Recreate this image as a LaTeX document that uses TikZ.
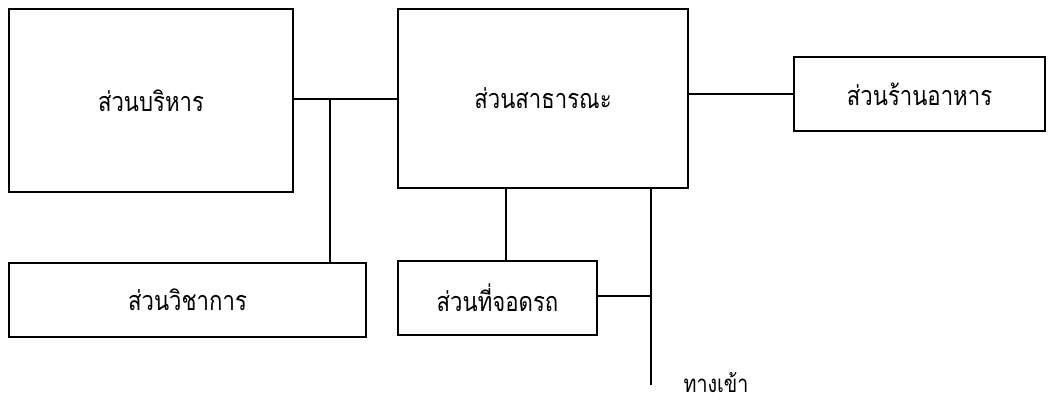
\documentclass[tikz,border=0pt]{standalone}
\usepackage{fontspec}
\newfontfamily\thaifont[Script=Thai,FakeStretch=0.82]{Loma}
\begin{document}
\begin{tikzpicture}[x=1pt,y=-1pt,
  box/.style={draw, line width=1.2pt, inner sep=0pt, font=\thaifont\fontsize{27}{30}\selectfont},
  link/.style={line width=1.8pt}]
\useasboundingbox (0,0) rectangle (1048,406);
\node[box, minimum width=284pt, minimum height=183pt] (admin) at (151,100.5) {ส่วนบริหาร};
\node[box, minimum width=290pt, minimum height=179pt] (public) at (543,98.5) {ส่วนสาธารณะ};
\node[box, minimum width=251pt, minimum height=74pt] (food) at (919.5,94) {ส่วนร้านอาหาร};
\node[box, minimum width=357pt, minimum height=74pt] (acad) at (187.5,300) {ส่วนวิชาการ};
\node[box, minimum width=199pt, minimum height=74pt] (park) at (497.5,298) {ส่วนที่จอดรถ};
\node[font=\thaifont\fontsize{24}{26}\selectfont, inner sep=0pt] (entry) at (716,383) {ทางเข้า};
\coordinate (j1) at (330,99);
\coordinate (j2) at (651,296);
\coordinate (e) at (651,385);
\draw[link] (admin.east |- j1) -- (public.west |- j1);
\draw[link] (j1) -- (j1 |- acad.north);
\draw[link] (public.east |- food.west) -- (food.west);
\draw[link] (public.south -| 506,0) -- (park.north -| 506,0);
\draw[link] (public.south -| j2) -- (e);
\draw[link] (park.east |- j2) -- (j2);
\end{tikzpicture}
\end{document}
